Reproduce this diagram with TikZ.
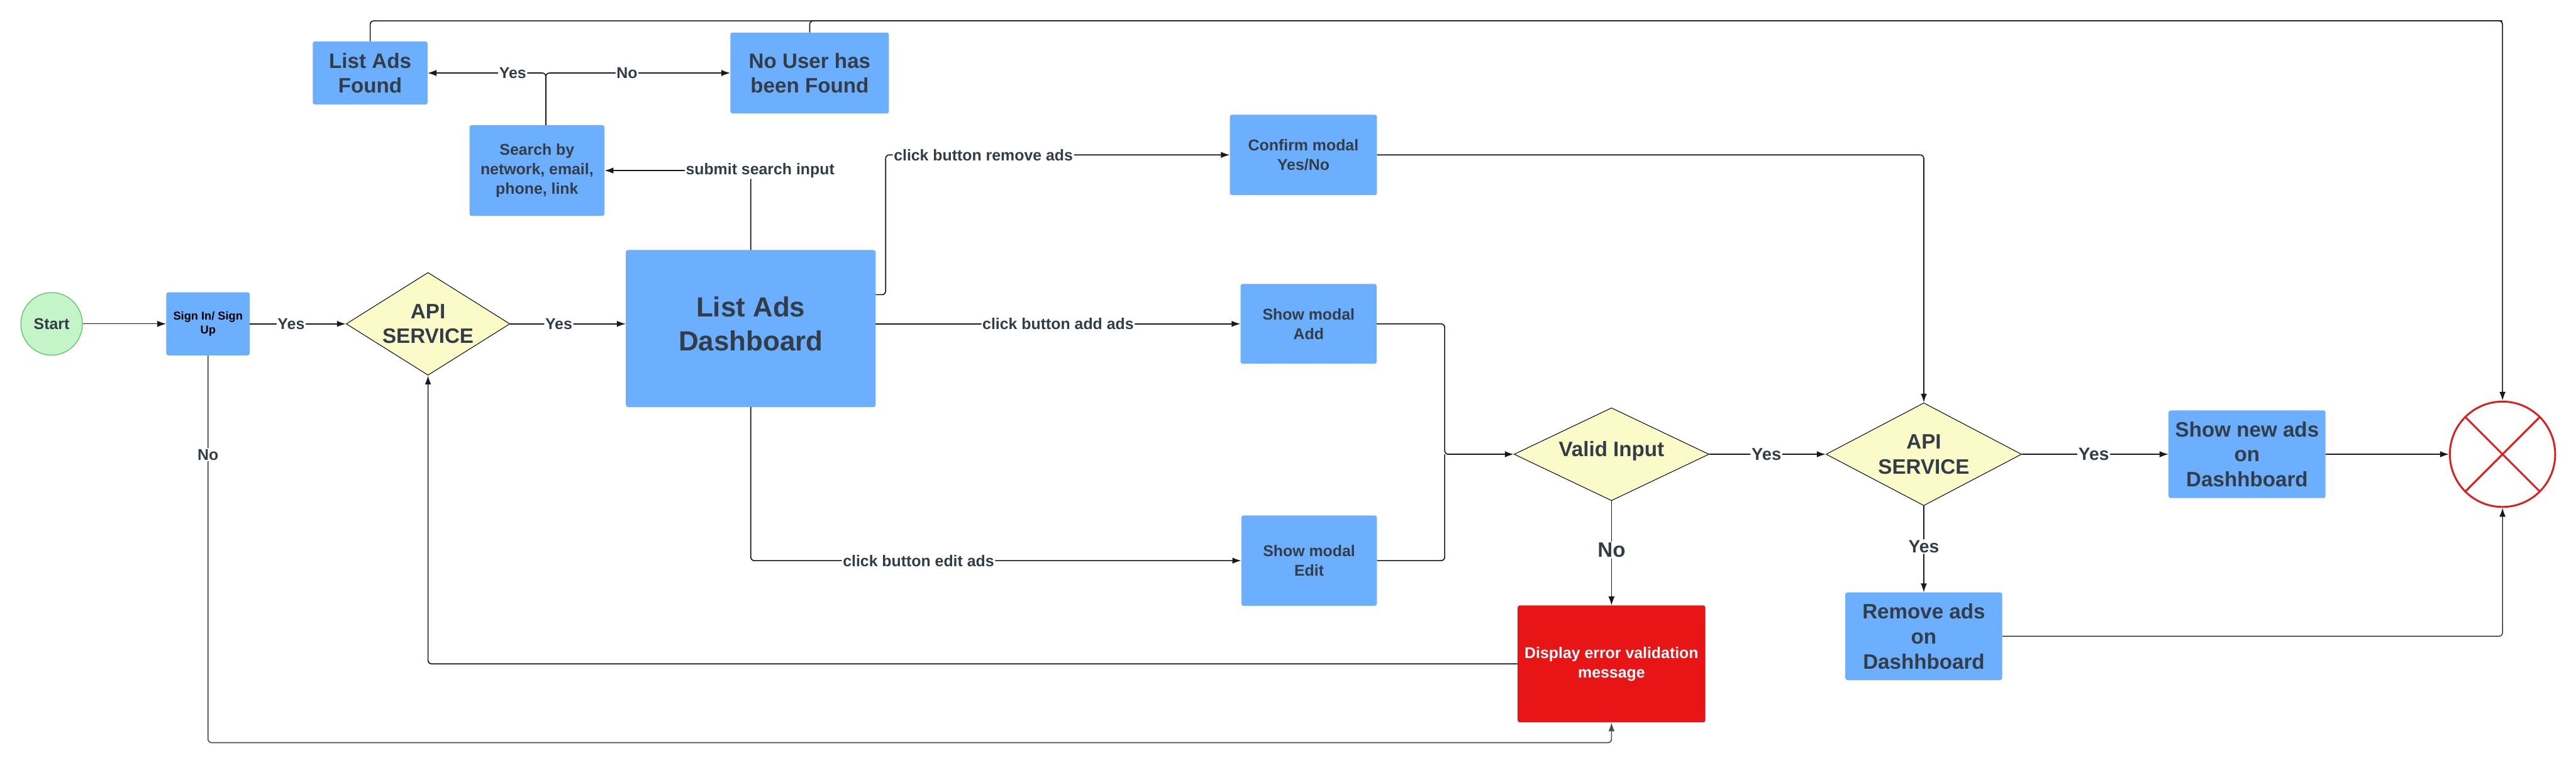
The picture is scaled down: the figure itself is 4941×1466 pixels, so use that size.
\documentclass[tikz,border=0pt]{standalone}
\usepackage{fontspec}
\setmainfont{Liberation Sans}
\usetikzlibrary{shapes.geometric,arrows.meta,calc}
\definecolor{boxblue}{HTML}{6CAFFE}
\definecolor{dyellow}{HTML}{FBFAC9}
\definecolor{txt}{HTML}{333D47}
\definecolor{sgreen}{HTML}{C4F5C8}
\definecolor{sgreenb}{HTML}{5DBF63}
\definecolor{errred}{HTML}{E71515}
\definecolor{endred}{HTML}{E01B1B}
\begin{document}
\begin{tikzpicture}[x=1pt,y=-1pt,
  fa/.style={font=\bfseries\fontsize{53}{66}\selectfont},
  fb/.style={font=\bfseries\fontsize{40}{48}\selectfont},
  fc/.style={font=\bfseries\fontsize{30}{37}\selectfont},
  fd/.style={font=\bfseries\fontsize{22}{27}\selectfont},
  box/.style={rectangle, rounded corners=4pt, fill=boxblue, inner sep=0pt, align=center, text=txt},
  dia/.style={diamond, draw=black, line width=1.2pt, fill=dyellow, inner sep=0pt},
  line/.style={draw=black!90, line width=2pt, rounded corners=7pt},
  conn/.style={line, -{Latex[length=17pt,width=12pt]}},
  lbl/.style={fill=white, inner sep=2pt, text=txt, fc},
]
\useasboundingbox (0,0) rectangle (4941,1466);
\fill[white] (0,0) rectangle (4941,1466);

% nodes
\node[ellipse, draw=sgreenb, line width=1.5pt, fill=sgreen, minimum width=118pt, minimum height=120pt, inner sep=0pt, text=txt, fc] (start) at (99,621) {Start};
\node[box, fd, text=black, minimum width=160pt, minimum height=121pt] (signin) at (399,621) {Sign In/ Sign\\Up};
\node[dia, minimum width=314pt, minimum height=197pt, label={[fb,text=txt,align=center]center:{API\\SERVICE}}] (api1) at (821,621) {};
\node[box, fa, minimum width=479pt, minimum height=301pt, label={[fa,text=txt,align=center,yshift=9pt]center:{List Ads\\Dashboard}}] (dash) at (1440,630) {};
\node[box, fc, minimum width=259pt, minimum height=174pt] (search) at (1030,327) {Search by\\network, email,\\phone, link};
\node[box, fb, minimum width=220pt, minimum height=121pt] (found) at (710,140) {List Ads\\Found};
\node[box, fb, minimum width=304pt, minimum height=155pt] (nouser) at (1553,140) {No User has\\been Found};
\node[box, fc, minimum width=282pt, minimum height=154pt] (confirm) at (2500,297) {Confirm modal\\Yes/No};
\node[box, fc, minimum width=261pt, minimum height=153pt] (add) at (2510,621) {Show modal\\Add};
\node[box, fc, minimum width=260pt, minimum height=173pt] (edit) at (2511,1075) {Show modal\\Edit};
\node[dia, minimum width=374pt, minimum height=178pt, label={[fb,text=txt,yshift=6pt]center:{Valid Input}}] (valid) at (3091,871) {};
\node[box, fc, fill=errred, text=white, minimum width=360pt, minimum height=224pt] (error) at (3091,1273) {Display error validation\\message};
\node[dia, minimum width=375pt, minimum height=197pt, label={[fb,text=txt,align=center]center:{API\\SERVICE}}] (api2) at (3690,871) {};
\node[box, fb, minimum width=301pt, minimum height=168pt] (shownew) at (4310,871) {Show new ads\\on\\Dashhboard};
\node[box, fb, minimum width=301pt, minimum height=168pt] (remove) at (3690,1220) {Remove ads\\on\\Dashhboard};
\node[circle, draw=endred, line width=3.5pt, minimum size=202pt, inner sep=0pt] (end) at (4800,871) {};
\draw[endred, line width=3.5pt] (end.north west) -- (end.south east) (end.north east) -- (end.south west);

% helper coordinates
\coordinate (topy) at (0,40);
\coordinate (tr) at (end.north |- topy);
\coordinate (boty) at (0,1424);
\coordinate (mx) at (2771,871);

% connectors
\draw[conn, line width=1.5pt] (start) -- (signin);
\draw[conn] (signin) -- node[lbl, pos=0.43] {Yes} (api1);
\draw[conn] (api1.east) -- node[lbl, pos=0.42] {Yes} (dash.west |- api1.east);
\draw[conn] (dash.east |- add.west) -- node[lbl, pos=0.5] {click button add ads} (add.west);
\draw[conn] (dash.south) |- node[lbl, pos=0.671] {click button edit ads} (edit.west);
\draw[conn] ([yshift=65pt]dash.east) -- ++(19,0) |- node[lbl, pos=0.642] {click button remove ads} (confirm.west);
\draw[conn] (dash.north) |- node[lbl, pos=0.5, xshift=18pt] {submit search input} (search.east);
\draw[conn] ([xshift=17pt]search.north) |- node[lbl, pos=0.64] {Yes} (found.east);
\draw[conn] ([xshift=17pt]search.north) |- node[lbl, pos=0.72] {No} (nouser.west);
\draw[conn] (found.north) |- (tr) -- (end.north);
\draw[line] (nouser.north) |- (tr);
\draw[conn] (confirm.east) -| (api2.north);
\draw[conn] (add.east) -| (mx) -- (valid.west);
\draw[line] (edit.east) -| (mx);
\draw[conn] (valid.east) -- node[lbl, pos=0.49, font=\bfseries\fontsize{33}{38}\selectfont] {Yes} (api2.west);
\draw[conn] (valid.south) -- node[lbl, pos=0.47, fb] {No} (error.north);
\draw[conn] (error.west) -| (api1.south);
\draw[conn, draw=black!70] (signin.south) |- node[lbl, pos=0.128] {No} (error.south |- boty) -- (error.south);
\draw[conn] (api2.east) -- node[lbl, pos=0.49, font=\bfseries\fontsize{34}{38}\selectfont] {Yes} (shownew.west);
\draw[conn] (api2.south) -- node[lbl, pos=0.47, font=\bfseries\fontsize{34}{38}\selectfont] {Yes} (remove.north);
\draw[conn, line width=1.5pt] (shownew.east) -- (end.west);
\draw[conn, line width=1.5pt] (remove.east) -| (end.south);
\end{tikzpicture}
\end{document}
